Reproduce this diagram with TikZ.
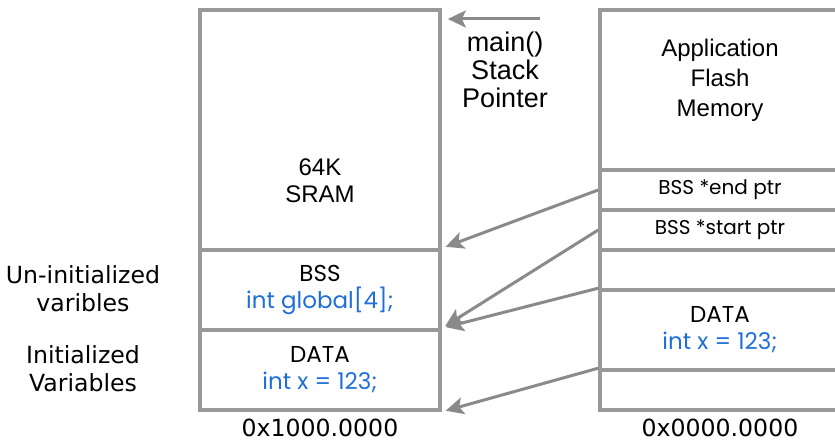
\documentclass[tikz,border=0pt]{standalone}
\usepackage{fontspec}
\setmainfont{Liberation Sans}
\newfontfamily\sidefont{DejaVu Sans}
\newfontfamily\handfont{Poppins}
\usetikzlibrary{arrows.meta}
\definecolor{boxgray}{HTML}{999999}
\definecolor{ptrgray}{HTML}{8A8A8A}
\definecolor{codeblue}{HTML}{1F6FDB}

\begin{document}
\begin{tikzpicture}[x=0.5pt,y=-0.5pt,
    cell/.style={draw=boxgray,line width=1.8pt,minimum width=120pt,inner sep=0pt,
        align=center,font=\handfont\fontsize{11.5}{13.5}\selectfont},
    small/.style={font=\handfont\fontsize{10}{12}\selectfont},
    ptr/.style={draw=ptrgray,line width=1.5pt,
        -{Stealth[length=9pt,width=8.5pt,inset=2pt]},shorten >=2pt},
    side/.style={font=\sidefont\fontsize{11.8}{14}\selectfont,align=center}]
    \useasboundingbox (0,0) rectangle (835,442);
    % SRAM column
    \node[cell,minimum height=120pt] (sram) at (320,130) {};
    \node[cell,minimum height=40pt] (bss) at (320,290)
        {BSS\\\textcolor{codeblue}{int global[4];}};
    \node[cell,minimum height=40pt] (dataL) at (320,370)
        {DATA\\\textcolor{codeblue}{int x = 123;}};
    \node[font=\fontsize{12}{13.5}\selectfont,align=center] (sramtxt) at (320,181) {64K\\SRAM};
    % Flash column
    \node[cell,minimum height=80pt] (flash) at (720,90) {};
    \node[cell,small,minimum height=20pt] (endptr) at (720,190) {BSS *end ptr};
    \node[cell,small,minimum height=20pt] (startptr) at (720,230) {BSS *start ptr};
    \node[cell,minimum height=20pt] (gap) at (720,270) {};
    \node[cell,minimum height=40pt] (dataR) at (720,330)
        {DATA\\\textcolor{codeblue}{int x = 123;}};
    \node[cell,minimum height=20pt] (tail) at (720,390) {};
    \node[font=\fontsize{12}{15}\selectfont,align=center] (flashtxt) at (720,80)
        {Application\\Flash\\Memory};
    % Pointers
    \draw[ptr] (endptr.west) -- (bss.north east);
    \draw[ptr] (startptr.west) -- (dataL.north east);
    \draw[ptr] (dataR.north west) -- (dataL.north east);
    \draw[ptr] (tail.north west) -- (dataL.south east);
    \coordinate (sp) at (540,19);
    \draw[ptr,shorten >=3pt] (sp) -- (sp -| sram.east);
    \node[font=\fontsize{13.5}{14}\selectfont,align=center] (sptxt) at (505,70)
        {main()\\Stack\\Pointer};
    % Labels
    \node[side] (uninit) at (83,289) {Un-initialized\\varibles};
    \node[side] (init) at (83,369) {Initialized\\Variables};
    \node[side] (addrsram) at (320,428) {0x1000.0000};
    \node[side] (addrflash) at (720,428) {0x0000.0000};
\end{tikzpicture}
\end{document}
